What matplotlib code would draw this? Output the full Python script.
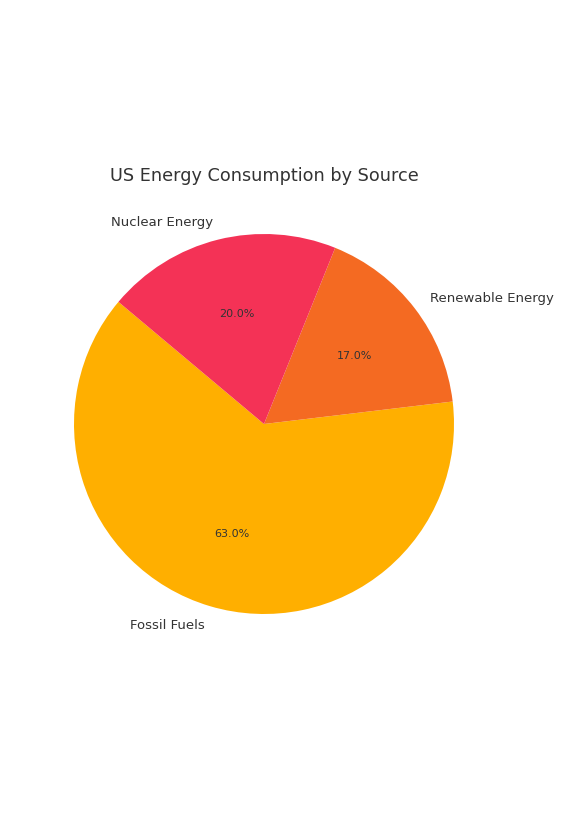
import matplotlib
matplotlib.use('Agg')
import matplotlib.pyplot as plt

# Share of US energy consumption by source (percent)
sources = ['Fossil Fuels', 'Renewable Energy', 'Nuclear Energy']
shares = [63.0, 17.0, 20.0]
colors = ['#FFAF00', '#F46A22', '#F43256']

fig = plt.figure(figsize=(5.85, 8.28), dpi=100)
ax = fig.add_axes([26.5 / 585, 165.5 / 828, 475 / 585, 475 / 828])

wedges, texts, autotexts = ax.pie(shares, labels=sources, colors=colors, startangle=140,
                                  autopct='%1.1f%%', textprops={'color': '#333333', 'fontsize': 9.5})
for t in autotexts:
    t.set_fontsize(8)

ax.set_xlim(-1.25, 1.25)
ax.set_ylim(-1.25, 1.25)
ax.set_title('US Energy Consumption by Source', fontsize=12.7, color='#333333', pad=5)

fig.savefig('out.png', dpi=100)
